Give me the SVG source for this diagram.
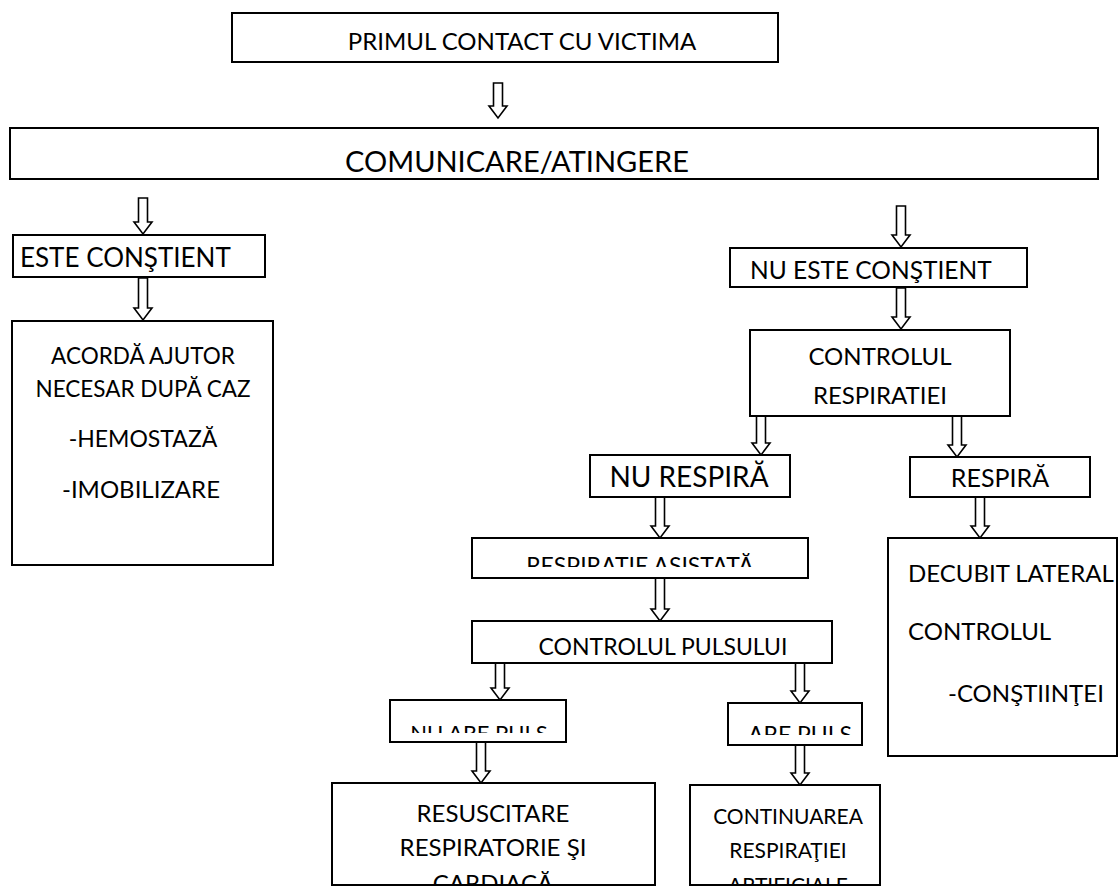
<svg xmlns="http://www.w3.org/2000/svg" width="1120" height="888" viewBox="0 0 1120 888">
  <style>
    .box { fill: #fff; stroke: #000; stroke-width: 2; }
    .lbl { font-family: Lato, "Liberation Sans", sans-serif; font-size: 24px; fill: #000; }
    .mid { text-anchor: middle; }
    .arr { fill: #fff; stroke: #000; stroke-width: 1.6; stroke-linejoin: miter; }
  </style>
  <defs>
    <clipPath id="clip-asistata"><rect x="472" y="538" width="336" height="29"/></clipPath>
    <clipPath id="clip-nupuls"><rect x="390" y="700" width="176" height="33"/></clipPath>
    <clipPath id="clip-arepuls"><rect x="728" y="703" width="134" height="32"/></clipPath>
    <clipPath id="clip-resusc"><rect x="332" y="783" width="323" height="101"/></clipPath>
    <clipPath id="clip-contin"><rect x="690" y="785" width="190" height="99"/></clipPath>
  </defs>
  <rect width="1120" height="888" fill="#fff"/>

  <!-- block arrows between the steps -->
  <g id="connectors">
    <path class="arr" d="M493.5,83 H502.5 V106 H507 L498,118 L489,106 H493.5 Z"/>
    <path class="arr" d="M138.5,198 H147.5 V222 H152 L143,234 L134,222 H138.5 Z"/>
    <path class="arr" d="M138.5,278 H147.5 V308 H152 L143,320 L134,308 H138.5 Z"/>
    <path class="arr" d="M896.5,206 H905.5 V235 H910 L901,247 L892,235 H896.5 Z"/>
    <path class="arr" d="M896.5,288 H905.5 V317 H910 L901,329 L892,317 H896.5 Z"/>
    <path class="arr" d="M756.5,416 H765.5 V443 H770 L761,455 L752,443 H756.5 Z"/>
    <path class="arr" d="M952.5,416 H961.5 V445 H966 L957,457 L948,445 H952.5 Z"/>
    <path class="arr" d="M655.5,497 H664.5 V526 H669 L660,538 L651,526 H655.5 Z"/>
    <path class="arr" d="M655.5,578 H664.5 V609 H669 L660,621 L651,609 H655.5 Z"/>
    <path class="arr" d="M975.5,497 H984.5 V526 H989 L980,538 L971,526 H975.5 Z"/>
    <path class="arr" d="M495.5,663 H504.5 V688 H509 L500,700 L491,688 H495.5 Z"/>
    <path class="arr" d="M795.5,663 H804.5 V691 H809 L800,703 L791,691 H795.5 Z"/>
    <path class="arr" d="M476.5,742 H485.5 V771 H490 L481,783 L472,771 H476.5 Z"/>
    <path class="arr" d="M795.5,745 H804.5 V773 H809 L800,785 L791,773 H795.5 Z"/>
  </g>

  <g id="primul-contact">
    <rect class="box" x="232" y="13" width="546" height="49"/>
    <text class="lbl mid" x="522" y="50">PRIMUL CONTACT CU VICTIMA</text>
  </g>

  <g id="comunicare">
    <rect class="box" x="10" y="128" width="1088" height="51"/>
    <text class="lbl mid" x="517" y="172" style="font-size:29px">COMUNICARE/ATINGERE</text>
  </g>

  <g id="este-constient">
    <rect class="box" x="13" y="235" width="252" height="42"/>
    <text class="lbl" x="20" y="267" style="font-size:26px">ESTE CONŞTIENT</text>
  </g>

  <g id="acorda-ajutor">
    <rect class="box" x="12" y="321" width="261" height="244"/>
    <text class="lbl mid" x="143" y="364" style="font-size:22.5px">ACORDĂ AJUTOR</text>
    <text class="lbl mid" x="143" y="397" style="font-size:22.5px">NECESAR DUPĂ CAZ</text>
    <text class="lbl mid" x="143" y="447" style="font-size:23px">-HEMOSTAZĂ</text>
    <text class="lbl mid" x="141" y="498">-IMOBILIZARE</text>
  </g>

  <g id="nu-este-constient">
    <rect class="box" x="730" y="248" width="297" height="39"/>
    <text class="lbl" x="750" y="279" style="font-size:24.5px">NU ESTE CONŞTIENT</text>
  </g>

  <g id="controlul-respiratiei">
    <rect class="box" x="750" y="330" width="260" height="86"/>
    <text class="lbl mid" x="880" y="365">CONTROLUL</text>
    <text class="lbl mid" x="880" y="404">RESPIRATIEI</text>
  </g>

  <g id="nu-respira">
    <rect class="box" x="590" y="455" width="200" height="42"/>
    <text class="lbl mid" x="689" y="487" style="font-size:28px">NU RESPIRĂ</text>
  </g>

  <g id="respira">
    <rect class="box" x="910" y="457" width="180" height="40"/>
    <text class="lbl mid" x="1000" y="487" style="font-size:25px">RESPIRĂ</text>
  </g>

  <g id="respiratie-asistata">
    <rect class="box" x="472" y="538" width="336" height="40"/>
    <text class="lbl mid" x="640" y="574" style="font-size:23px" clip-path="url(#clip-asistata)">RESPIRATIE ASISTATĂ</text>
  </g>

  <g id="controlul-pulsului">
    <rect class="box" x="472" y="621" width="360" height="42"/>
    <text class="lbl mid" x="663" y="655" style="font-size:23px">CONTROLUL PULSULUI</text>
  </g>

  <g id="nu-are-puls">
    <rect class="box" x="390" y="700" width="176" height="42"/>
    <text class="lbl mid" x="479" y="741" style="font-size:22px" clip-path="url(#clip-nupuls)">NU ARE PULS</text>
  </g>

  <g id="are-puls">
    <rect class="box" x="728" y="703" width="134" height="42"/>
    <text class="lbl mid" x="800" y="743" style="font-size:23px" clip-path="url(#clip-arepuls)">ARE PULS</text>
  </g>

  <g id="resuscitare">
    <rect class="box" x="332" y="783" width="323" height="102"/>
    <g clip-path="url(#clip-resusc)">
      <text class="lbl mid" x="493" y="822">RESUSCITARE</text>
      <text class="lbl mid" x="493" y="856">RESPIRATORIE ŞI</text>
      <text class="lbl mid" x="493" y="892">CARDIACĂ</text>
    </g>
  </g>

  <g id="continuarea">
    <rect class="box" x="690" y="785" width="190" height="100"/>
    <g clip-path="url(#clip-contin)" style="font-size:21px">
      <text class="lbl mid" x="788" y="824" style="font-size:21px">CONTINUAREA</text>
      <text class="lbl mid" x="788" y="858" style="font-size:21px">RESPIRAŢIEI</text>
      <text class="lbl mid" x="788" y="893" style="font-size:21px">ARTIFICIALE</text>
    </g>
  </g>

  <g id="decubit-lateral">
    <rect class="box" x="888" y="538" width="229" height="218"/>
    <text class="lbl" x="908" y="582">DECUBIT LATERAL</text>
    <text class="lbl" x="908" y="640">CONTROLUL</text>
    <text class="lbl" x="948" y="702">-CONŞTIINŢEI</text>
  </g>
</svg>
